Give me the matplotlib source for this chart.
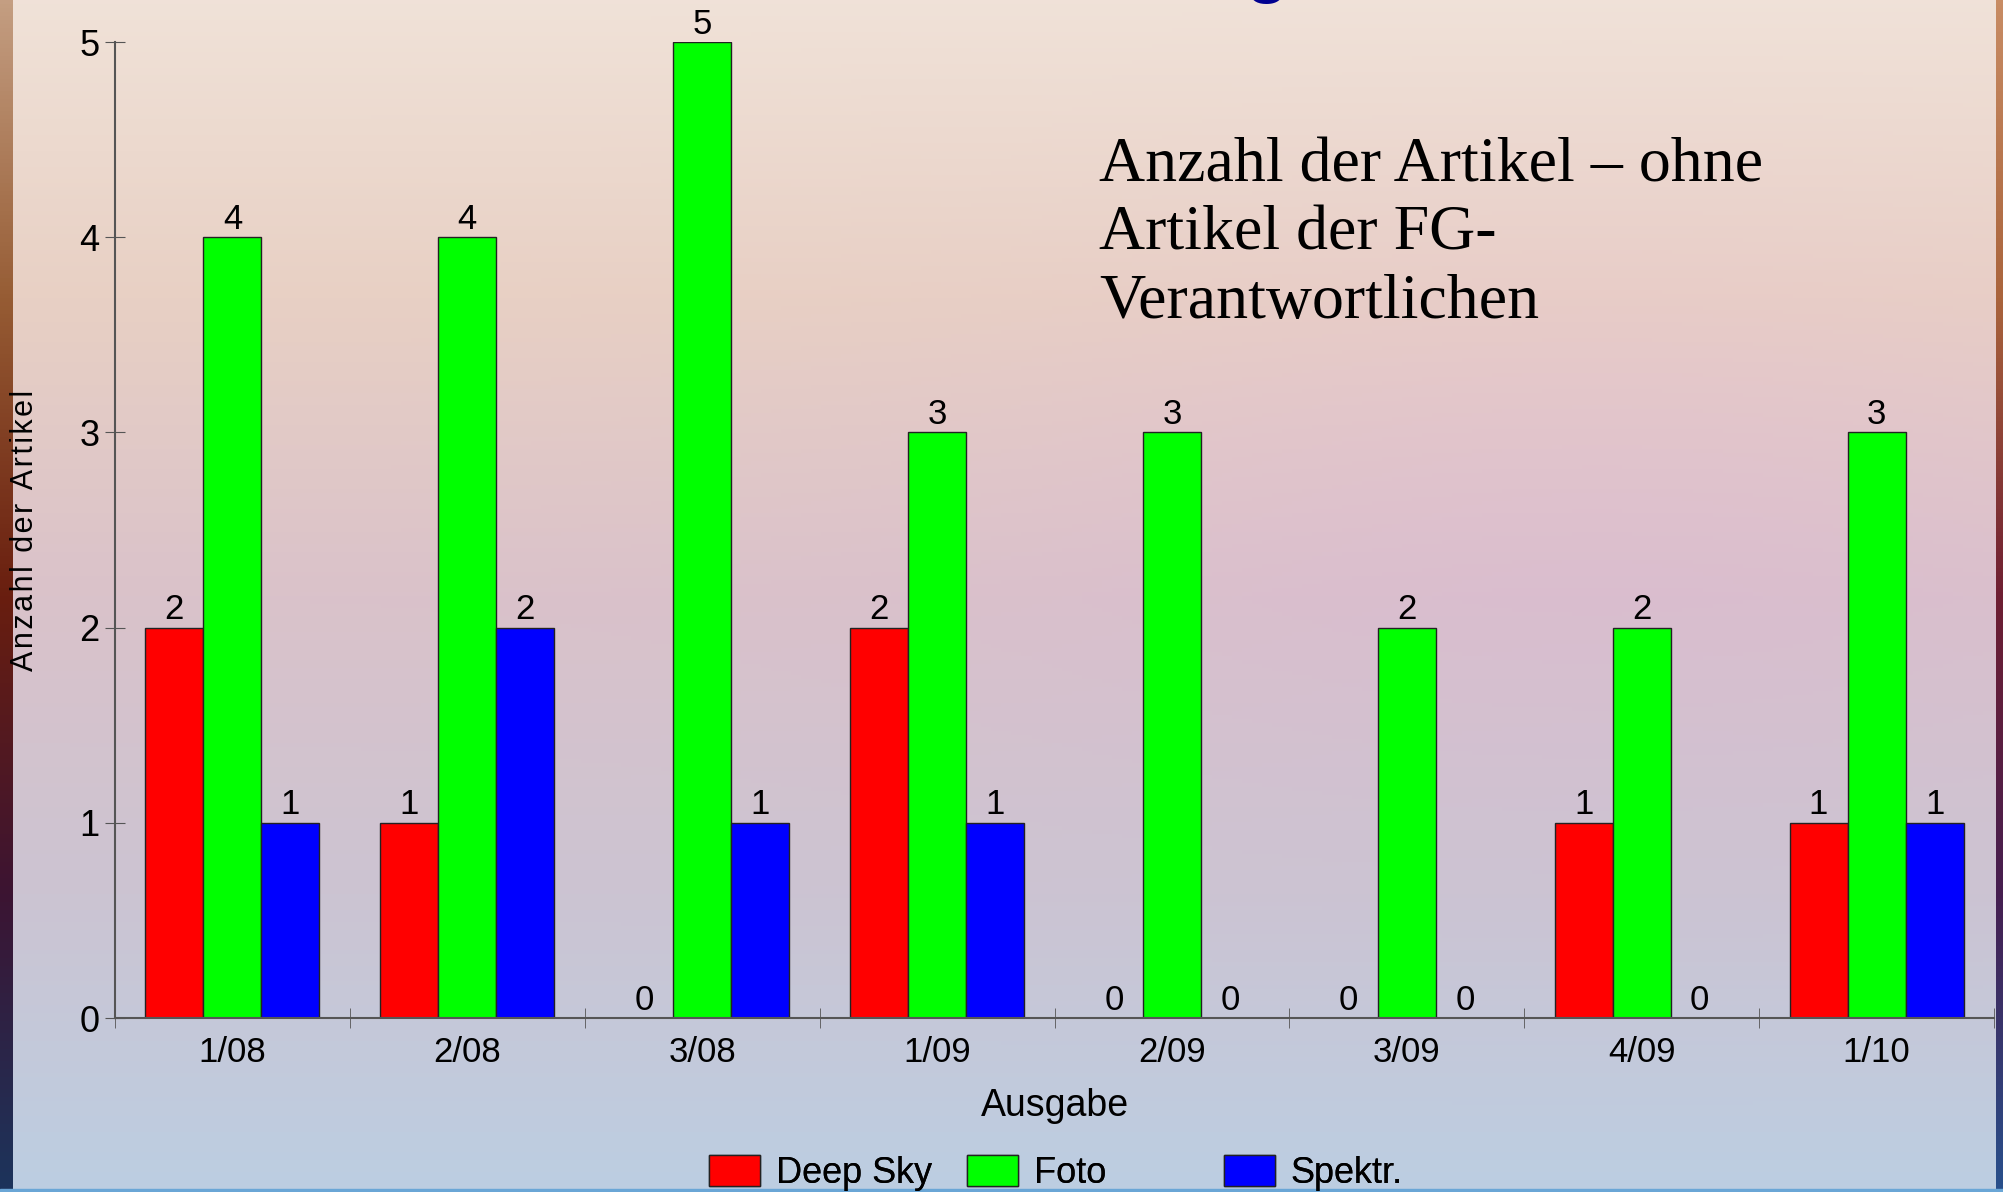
import numpy as np
import matplotlib
matplotlib.use('Agg')
import matplotlib.pyplot as plt

# data
ausgaben = ['1/08', '2/08', '3/08', '1/09', '2/09', '3/09', '4/09', '1/10']
deep_sky = [2, 1, 0, 2, 0, 0, 1, 1]
foto = [4, 4, 5, 3, 3, 2, 2, 3]
spektr = [1, 2, 1, 1, 0, 0, 0, 1]

serien = [('Deep Sky', deep_sky, '#ff0000'),
          ('Foto', foto, '#00ff00'),
          ('Spektr.', spektr, '#0000ff')]

plt.rcParams['font.family'] = ['Liberation Sans', 'DejaVu Sans']

W, H = 2003, 1192
fig = plt.figure(figsize=(W / 100, H / 100), dpi=100)

# slide background: soft vertical gradient peach -> mauve -> light blue
bg = fig.add_axes([0, 0, 1, 1], zorder=-10)
bg.set_axis_off()
stops_y = [0.0, 0.25, 0.5, 0.75, 1.0]
stops_c = np.array([[240, 226, 216],
                    [232, 208, 196],
                    [218, 194, 202],
                    [204, 196, 210],
                    [188, 206, 226]]) / 255.0
yy = np.linspace(0, 1, 300)
col = np.stack([np.interp(yy, stops_y, stops_c[:, k]) for k in range(3)], axis=-1)
xx = np.linspace(0, 1, 200)
img = np.repeat(col[:, None, :], len(xx), axis=1)
# a little warmer to the right in the middle band
warm = np.exp(-((yy[:, None] - 0.4) / 0.25) ** 2) * np.exp(-((xx[None, :] - 0.8) / 0.3) ** 2)
img[..., 2] += 0.02 * warm
img[..., 1] -= 0.02 * warm
img = np.clip(img, 0, 1)
bg.imshow(img, extent=[0, 1, 0, 1], aspect='auto', origin='upper')

# dark frame strips at the slide edges
left_c = np.array([[196, 158, 130], [150, 92, 52], [105, 30, 15], [60, 20, 50], [28, 52, 92]]) / 255.0
right_c = np.array([[200, 140, 100], [170, 100, 60], [110, 30, 50], [70, 30, 80], [40, 80, 140]]) / 255.0
lc = np.stack([np.interp(yy, stops_y, left_c[:, k]) for k in range(3)], axis=-1)[:, None, :]
rc = np.stack([np.interp(yy, stops_y, right_c[:, k]) for k in range(3)], axis=-1)[:, None, :]
bg.imshow(lc, extent=[0, 13 / W, 0, 1], aspect='auto', origin='upper')
bg.imshow(rc, extent=[1996 / W, 1, 0, 1], aspect='auto', origin='upper')
bg.axhspan(0, 3 / H, color='#6aa6d6')
bg.set_xlim(0, 1)
bg.set_ylim(0, 1)

# cut-off bit of the slide headline above
fig.text(1266 / W, 1 + 10 / H, 'g', color='#000090', fontsize=50, fontweight='bold',
         ha='center', va='baseline')

ax = fig.add_axes([115 / W, 1 - 1018 / H, (1994 - 115) / W, (1018 - 42) / H])
ax.set_facecolor('none')

x = np.arange(len(ausgaben))
bw = 0.247
handles = []
for i, (name, werte, farbe) in enumerate(serien):
    bars = ax.bar(x + (i - 1) * bw, werte, bw, color=farbe, edgecolor='#222222',
                  linewidth=1.0, label=name)
    ax.bar_label(bars, fontsize=25, padding=1)
    handles.append(bars)

ax.set_xlim(-0.5, len(ausgaben) - 0.5)
ax.set_ylim(0, 5)
ax.set_yticks(range(6))
ax.set_xticks(x)
ax.set_xticklabels(ausgaben)
ax.set_xticks(np.arange(-0.5, len(ausgaben)), minor=True)
ax.tick_params(axis='x', which='major', length=0, labelsize=25, pad=13)
ax.tick_params(axis='x', which='minor', length=14, direction='inout', color='#555555')
ax.tick_params(axis='y', length=14, direction='inout', color='#555555', labelsize=26, pad=4)

for s in ['top', 'right']:
    ax.spines[s].set_visible(False)
for s in ['left', 'bottom']:
    ax.spines[s].set_color('#555555')
    ax.spines[s].set_linewidth(1.5)

fig.text(1055 / W, 1 - 1106 / H, 'Ausgabe', fontsize=27, ha='center', va='center')
fig.text(25 / W, 1 - 530 / H, '\u200a'.join('Anzahl der Artikel'), fontsize=22, rotation=90,
         ha='center', va='center')

fig.text(1099 / W, 1 - 137 / H,
         'Anzahl der Artikel \u2013 ohne\nArtikel der FG-\nVerantwortlichen',
         family=['Liberation Serif', 'DejaVu Serif'], fontsize=46,
         ha='left', va='top', linespacing=1.24)

# legend entries sit in fixed-width slots on the slide
for h, x_left in zip(handles, [709, 967, 1224]):
    fig.add_artist(fig.legend(handles=[h], loc='center left',
                              bbox_to_anchor=(x_left / W, 1 - 1173 / H),
                              frameon=False, fontsize=26, handlelength=1.4,
                              handleheight=0.95, handletextpad=0.45,
                              borderpad=0, borderaxespad=0))

fig.savefig('out.png', dpi=100)
